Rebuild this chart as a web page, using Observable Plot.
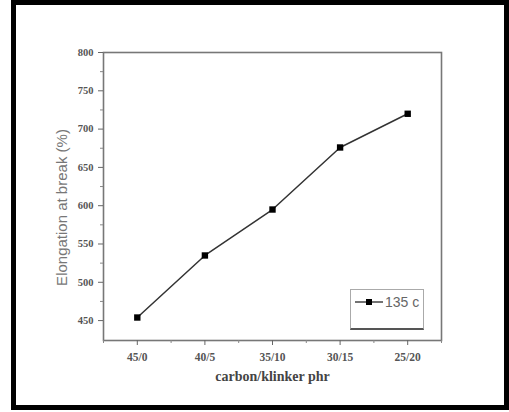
<!DOCTYPE html>
<html><head><meta charset="utf-8">
<script src="https://cdn.jsdelivr.net/npm/d3@7"></script>
<script src="https://cdn.jsdelivr.net/npm/@observablehq/plot@0.6"></script>
<style>
html,body{margin:0;padding:0;background:#fff;}
#wrap{position:relative;width:509px;height:412px;overflow:hidden;background:#fff;}
#border{position:absolute;left:11px;top:0;width:488px;height:400px;border:5px solid #000;}
#legend{position:absolute;left:350px;top:289px;width:72px;height:38px;border:1px solid #aaa;border-bottom:2px solid #555;background:#fff;}
</style></head>
<body><div id="wrap"><div id="chart"></div><div id="border"></div><div id="legend"></div></div>
<script>
const categories = ["45/0","40/5","35/10","30/15","25/20"];
const elongation = [454, 535, 595, 676, 720];
const yTicks = [450,500,550,600,650,700,750,800];
const seriesName = "135 c";

const data = categories.map((c,i)=>({i, c, v: elongation[i]}));
const yMinor = yTicks.slice(0,-1).map(t=>t+25);
const xMinor = d3.range(-0.5, categories.length, 1);

const tickFont = {fontFamily:"'Liberation Serif','Times New Roman',serif", fontWeight:"bold", fontSize:10.5, fill:"#555"};

const chart = Plot.plot({
  width:509, height:412,
  marginLeft:103, marginRight:68, marginTop:52, marginBottom:72,
  style:{background:"transparent"},
  x:{type:"linear", domain:[-0.5, categories.length-0.5]},
  y:{domain:[424,800]},
  marks:[
    Plot.frame({stroke:"#777", strokeWidth:1.6}),
    Plot.axisX({ticks:d3.range(categories.length), tickFormat:i=>categories[i], tickSize:5, tickPadding:7, stroke:"#666", ...tickFont, fontSize:11.5, label:null}),
    Plot.axisX({ticks:xMinor, tickFormat:()=>"", tickSize:3, stroke:"#888", label:null}),
    Plot.axisY({ticks:yTicks, tickSize:5, tickPadding:5, stroke:"#666", ...tickFont, label:null}),
    Plot.axisY({ticks:yMinor, tickFormat:()=>"", tickSize:3, stroke:"#888", label:null}),
    Plot.text(["Elongation at break (%)"],{frameAnchor:"left", textAnchor:"middle", dx:-41, dy:11, rotate:-90, fontFamily:"'Liberation Sans',Arial,sans-serif", fontSize:15, fill:"#777"}),
    Plot.text(["carbon/klinker phr"],{frameAnchor:"bottom", dy:40, fontFamily:"'Liberation Serif','Times New Roman',serif", fontWeight:"bold", fontSize:14, fill:"#444"}),
    Plot.line(data,{x:"i", y:"v", stroke:"#333", strokeWidth:1.5}),
    Plot.dot(data,{x:"i", y:"v", symbol:"square", r:3.6, fill:"#000", stroke:"none"})
  ]
});
document.getElementById("chart").appendChild(chart);

document.getElementById("legend").innerHTML =
  `<svg width="72" height="22" style="display:block"><line x1="4" y1="12" x2="32" y2="12" stroke="#444" stroke-width="1.5"/><rect x="15" y="9" width="6" height="6" fill="#000"/><text x="34" y="17" font-size="14" fill="#666" font-family="Liberation Sans, Arial, sans-serif">${seriesName}</text></svg>`;
</script></body></html>
